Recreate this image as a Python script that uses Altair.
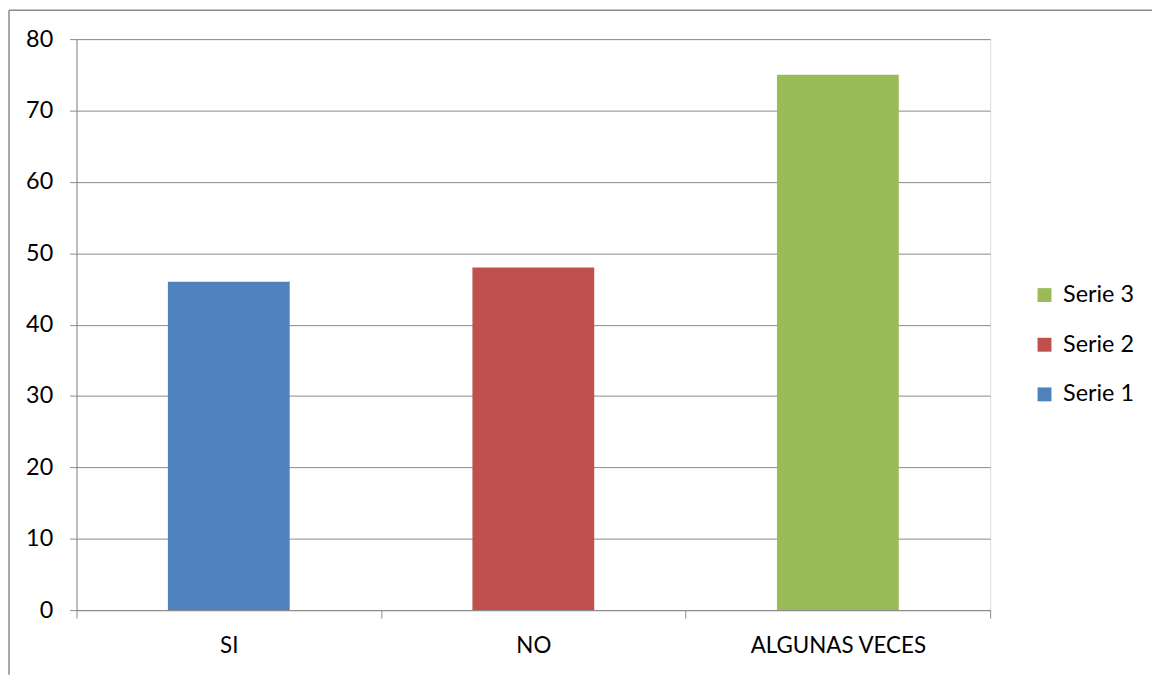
import altair as alt
import pandas as pd

categories = ["SI", "NO", "ALGUNAS VECES"]
values = [46, 48, 75]
series = ["Serie 1", "Serie 2", "Serie 3"]
colors = ["#4F81BD", "#C0504D", "#9BBB59"]
legend_order = ["Serie 3", "Serie 2", "Serie 1"]
y_ticks = [0, 10, 20, 30, 40, 50, 60, 70, 80]

df = pd.DataFrame({"cat": categories, "val": values, "serie": series})

GRAY = "#8a8a8a"
FONT = "Lato"

bars = alt.Chart(df).mark_bar(width=alt.RelativeBandSize(0.4)).encode(
    x=alt.X(
        "cat:N",
        sort=categories,
        title=None,
        scale=alt.Scale(paddingInner=0, paddingOuter=0),
        axis=alt.Axis(
            labelAngle=0, tickBand="extent", ticks=True, tickSize=8,
            tickColor=GRAY, domainColor=GRAY, labelFontSize=22.5,
            labelPadding=17, labelFont=FONT, labelColor="#000000",
            grid=False, labelFontWeight="normal",
        ),
    ),
    y=alt.Y(
        "val:Q",
        scale=alt.Scale(domain=[0, 80], nice=False),
        axis=alt.Axis(
            values=y_ticks, title=None, tickSize=7, tickColor=GRAY,
            domainColor=GRAY, gridColor=GRAY, grid=True, labelFontSize=23.5,
            labelFont=FONT, labelColor="#000000", labelPadding=17,
        ),
    ),
    color=alt.Color(
        "serie:N",
        scale=alt.Scale(domain=series, range=colors),
        legend=alt.Legend(
            title=None, orient="none", legendX=963, legendY=246,
            values=legend_order, symbolType="square", symbolSize=196,
            symbolStrokeWidth=0, labelFontSize=23.5, labelFont=FONT,
            labelColor="#000000", rowPadding=25, padding=0, labelOffset=7,
        ),
    ),
)

frame_df = pd.DataFrame({"a": [0]})
left_border = alt.Chart(frame_df).mark_rule(color=GRAY, strokeWidth=1.5).encode(
    x=alt.value(-68), y=alt.value(-29), y2=alt.value(640)
)
top_border = alt.Chart(frame_df).mark_rule(color=GRAY, strokeWidth=1.5).encode(
    x=alt.value(-68), x2=alt.value(1090), y=alt.value(-29)
)

chart = alt.layer(bars, left_border, top_border).properties(
    width=920,
    height=575,
    autosize=alt.AutoSizeParams(type="none"),
    padding={"left": 69, "top": 29, "right": 163, "bottom": 63},
).configure_view(stroke=None).configure(background="white")

chart.save("out.html", embed_options={"renderer": "svg", "actions": False})
